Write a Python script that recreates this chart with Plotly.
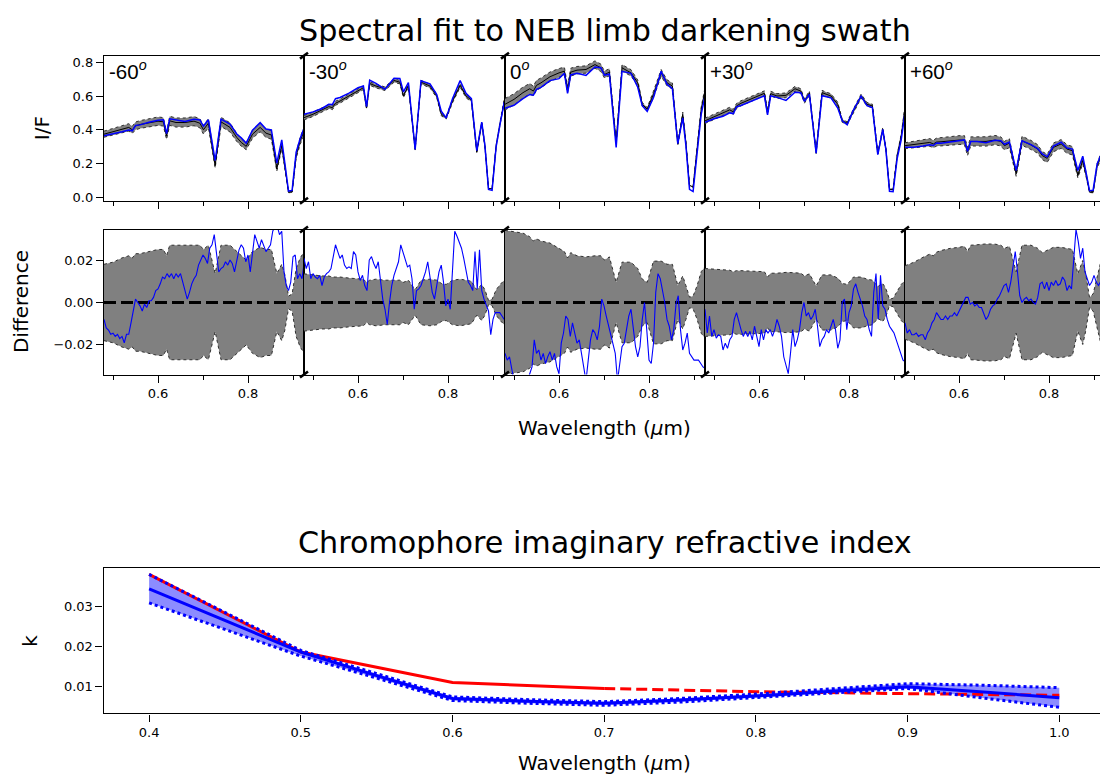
import numpy as np
import plotly.graph_objects as go

W, H = 1100, 778

# ---------------- data: spectra (coarse wavelength samples, micron) ----------------
WL = [0.48, 0.50, 0.52, 0.535, 0.543, 0.55, 0.56, 0.58, 0.60, 0.612,
      0.619, 0.626, 0.64, 0.66, 0.68, 0.693, 0.701, 0.712, 0.727, 0.74,
      0.76, 0.775, 0.785, 0.796, 0.81, 0.827, 0.84, 0.852, 0.864, 0.875,
      0.882, 0.89, 0.898, 0.907, 0.916, 0.925]

ANGLE_LABELS = ["-60", "-30", "0", "+30", "+60"]

DATA_M60 = [0.374, 0.388, 0.404, 0.414, 0.400, 0.423, 0.431, 0.443, 0.451, 0.447,
            0.365, 0.453, 0.443, 0.443, 0.451, 0.439, 0.400, 0.439, 0.188, 0.447,
            0.414, 0.355, 0.325, 0.302, 0.374, 0.414, 0.380, 0.369, 0.168, 0.306,
            0.188, 0.031, 0.031, 0.247, 0.335, 0.394]
MODEL_M60 = [0.364, 0.374, 0.388, 0.399, 0.394, 0.425, 0.429, 0.444, 0.457, 0.459,
             0.378, 0.465, 0.457, 0.449, 0.462, 0.458, 0.422, 0.459, 0.218, 0.463,
             0.434, 0.375, 0.352, 0.321, 0.398, 0.442, 0.404, 0.399, 0.203, 0.340,
             0.200, 0.037, 0.041, 0.267, 0.348, 0.413]
ERR_M60 = [0.018, 0.019, 0.021, 0.022, 0.021, 0.023, 0.023, 0.024, 0.025, 0.025,
           0.022, 0.027, 0.027, 0.027, 0.027, 0.027, 0.025, 0.027, 0.0137, 0.027,
           0.027, 0.024, 0.022, 0.020, 0.024, 0.026, 0.025, 0.025, 0.0137, 0.018,
           0.013, 0.003, 0.004, 0.016, 0.021, 0.024]

DATA_M30 = [0.472, 0.492, 0.518, 0.537, 0.531, 0.557, 0.570, 0.600, 0.635, 0.649,
            0.531, 0.674, 0.659, 0.643, 0.692, 0.682, 0.600, 0.663, 0.286, 0.682,
            0.659, 0.600, 0.492, 0.472, 0.570, 0.663, 0.600, 0.576, 0.267, 0.439,
            0.306, 0.051, 0.051, 0.306, 0.443, 0.571]
MODEL_M30 = [0.492, 0.506, 0.526, 0.551, 0.549, 0.584, 0.591, 0.617, 0.649, 0.659,
             0.537, 0.694, 0.675, 0.640, 0.705, 0.704, 0.624, 0.680, 0.283, 0.690,
             0.672, 0.608, 0.510, 0.470, 0.584, 0.691, 0.616, 0.584, 0.277, 0.445,
             0.308, 0.047, 0.041, 0.301, 0.438, 0.563]
ERR_M30 = [0.0135, 0.013, 0.0125, 0.0125, 0.012, 0.012, 0.012, 0.0115, 0.011, 0.011,
           0.0095, 0.0105, 0.011, 0.0105, 0.0105, 0.0105, 0.0095, 0.0105, 0.006, 0.0105,
           0.011, 0.0105, 0.009, 0.0085, 0.0105, 0.011, 0.0105, 0.010, 0.006, 0.0085,
           0.006, 0.001, 0.0015, 0.006, 0.0085, 0.0105]

DATA_0 = [0.551, 0.580, 0.620, 0.643, 0.629, 0.663, 0.678, 0.714, 0.737, 0.747,
          0.639, 0.741, 0.753, 0.757, 0.786, 0.767, 0.727, 0.741, 0.325, 0.767,
          0.737, 0.678, 0.551, 0.522, 0.610, 0.737, 0.678, 0.659, 0.316, 0.492,
          0.325, 0.071, 0.061, 0.306, 0.521, 0.639]
MODEL_0 = [0.527, 0.545, 0.584, 0.609, 0.605, 0.639, 0.651, 0.691, 0.703, 0.735,
           0.615, 0.725, 0.734, 0.722, 0.772, 0.768, 0.724, 0.729, 0.295, 0.746,
           0.734, 0.652, 0.543, 0.509, 0.591, 0.747, 0.670, 0.644, 0.318, 0.470,
           0.308, 0.047, 0.034, 0.279, 0.492, 0.608]
ERR_0 = [0.034, 0.0335, 0.0327, 0.031, 0.029, 0.030, 0.029, 0.028, 0.0255, 0.024,
         0.021, 0.0235, 0.022, 0.0215, 0.022, 0.022, 0.020, 0.0215, 0.0095, 0.019,
         0.019, 0.016, 0.011, 0.0095, 0.0195, 0.0195, 0.018, 0.018, 0.008, 0.0125,
         0.008, 0.0025, 0.003, 0.008, 0.0145, 0.017]

DATA_P30 = [0.453, 0.478, 0.502, 0.518, 0.506, 0.541, 0.557, 0.580, 0.606, 0.616,
            0.502, 0.614, 0.600, 0.604, 0.643, 0.629, 0.570, 0.616, 0.267, 0.620,
            0.600, 0.551, 0.453, 0.439, 0.512, 0.600, 0.551, 0.541, 0.257, 0.404,
            0.286, 0.047, 0.047, 0.247, 0.365, 0.541]
MODEL_P30 = [0.445, 0.465, 0.480, 0.500, 0.496, 0.536, 0.544, 0.566, 0.585, 0.601,
             0.488, 0.601, 0.592, 0.574, 0.622, 0.620, 0.569, 0.611, 0.262, 0.602,
             0.589, 0.529, 0.453, 0.429, 0.518, 0.599, 0.543, 0.531, 0.253, 0.402,
             0.282, 0.036, 0.033, 0.229, 0.341, 0.513]
ERR_P30 = [0.016, 0.0158, 0.0155, 0.0152, 0.0145, 0.015, 0.015, 0.0148, 0.0145, 0.0145,
           0.012, 0.0138, 0.0138, 0.0142, 0.014, 0.0138, 0.0125, 0.0135, 0.0078, 0.013,
           0.013, 0.0115, 0.009, 0.0085, 0.012, 0.012, 0.011, 0.0105, 0.0075, 0.009,
           0.0065, 0.0015, 0.002, 0.0055, 0.0085, 0.0105]

DATA_P60 = [0.306, 0.312, 0.319, 0.325, 0.316, 0.327, 0.329, 0.335, 0.339, 0.339,
            0.271, 0.331, 0.331, 0.331, 0.339, 0.331, 0.306, 0.321, 0.139, 0.335,
            0.310, 0.286, 0.247, 0.231, 0.296, 0.316, 0.286, 0.276, 0.129, 0.218,
            0.139, 0.031, 0.031, 0.188, 0.247, 0.306]
MODEL_P60 = [0.296, 0.297, 0.304, 0.312, 0.307, 0.322, 0.321, 0.329, 0.335, 0.340,
             0.273, 0.330, 0.330, 0.323, 0.338, 0.335, 0.314, 0.327, 0.159, 0.335,
             0.312, 0.288, 0.257, 0.240, 0.304, 0.326, 0.292, 0.286, 0.159, 0.244,
             0.152, 0.039, 0.042, 0.198, 0.255, 0.314]
ERR_P60 = [0.0173, 0.019, 0.0213, 0.0228, 0.022, 0.0237, 0.0245, 0.0255, 0.026, 0.0265,
           0.024, 0.027, 0.0272, 0.0276, 0.0275, 0.027, 0.0255, 0.0265, 0.0145, 0.027,
           0.027, 0.0255, 0.0235, 0.0245, 0.026, 0.026, 0.0255, 0.025, 0.0135, 0.0198,
           0.013, 0.0024, 0.004, 0.0127, 0.020, 0.023]

# ---------------- data: model - observation differences (fine samples) ----------------
WL_FINE = [round(0.48 + 0.005 * i, 3) for i in range(90)]

DIFF_M60 = [-0.008, -0.012, -0.013, -0.015, -0.0145, -0.016, -0.015, -0.017, -0.016, -0.019,
            -0.015, -0.015, -0.0096, -0.004, 0.0016, 0.0, -0.0016, -0.004, -0.0008, -0.0024,
            0.0008, 0.0008, 0.0024, 0.0056, 0.0064, 0.0088, 0.012, 0.0112, 0.0136, 0.012,
            0.0136, 0.0112, 0.0136, 0.012, 0.0136, 0.0096, 0.0056, 0.0016, 0.0048, 0.0088,
            0.0112, 0.0128, 0.0176, 0.020, 0.0224, 0.0208, 0.0184, 0.0256, 0.0272, 0.032,
            0.0216, 0.0144, 0.016, 0.0168, 0.0192, 0.0176, 0.020, 0.0184, 0.0144, 0.020,
            0.0248, 0.0272, 0.0256, 0.0192, 0.0224, 0.0144, 0.024, 0.032, 0.0288, 0.0256,
            0.0296, 0.0264, 0.024, 0.0256, 0.0272, 0.0336, 0.036, 0.036, 0.032, 0.0336,
            0.0144, 0.008, 0.0056, 0.0096, 0.0216, 0.0224, 0.0112, 0.0136, 0.0112, 0.0192]
DIFF_M30 = [0.0208, 0.016, 0.0192, 0.0112, 0.0136, 0.012, 0.0112, 0.0128, 0.008, 0.012,
            0.0136, 0.0144, 0.016, 0.0208, 0.0272, 0.024, 0.0208, 0.0224, 0.0176, 0.016,
            0.0168, 0.016, 0.024, 0.0224, 0.0144, 0.0104, 0.0128, 0.008, 0.0056, 0.020,
            0.0216, 0.0184, 0.016, 0.0192, 0.0104, 0.0016, -0.0032, -0.0104, 0.0, 0.008,
            0.0128, 0.016, 0.0192, 0.0272, 0.024, 0.020, 0.0168, 0.0176, 0.0112, -0.0032,
            0.0056, 0.0064, 0.008, 0.0112, 0.0144, 0.0192, 0.0128, 0.0048, 0.0016, 0.008,
            0.0144, 0.0176, 0.0096, -0.0016, 0.0016, -0.0032, 0.0144, 0.0336, 0.0312, 0.028,
            0.0256, 0.0208, 0.016, 0.0096, 0.008, 0.0056, 0.024, 0.0064, 0.0248, 0.0056,
            0.0016, -0.0016, -0.004, -0.0152, -0.008, -0.0048, -0.0048, -0.0048, -0.0064, -0.008]
DIFF_0 = [-0.024, -0.0272, -0.0256, -0.032, -0.037, -0.038, -0.037, -0.038, -0.037, -0.038,
          -0.037, -0.0336, -0.0304, -0.0176, -0.024, -0.0224, -0.0272, -0.024, -0.0288, -0.0256,
          -0.0232, -0.0272, -0.024, -0.0304, -0.0336, -0.0192, -0.0144, -0.0064, -0.008, -0.016,
          -0.0096, -0.0144, -0.0192, -0.0176, -0.024, -0.0304, -0.037, -0.0272, -0.0176, -0.0128,
          -0.0144, -0.0176, -0.0112, 0.0016, -0.0016, -0.0064, -0.0112, -0.016, -0.0192, -0.024,
          -0.037, -0.0288, -0.0208, -0.0192, -0.0128, -0.0064, -0.0032, -0.0128, -0.0208, -0.0256,
          -0.0208, -0.008, 0.0, -0.0128, -0.0272, -0.0288, -0.0192, 0.0048, 0.0136, 0.0112,
          0.0064, 0.0, -0.008, -0.0112, -0.0176, -0.0128, -0.0008, 0.0032, -0.0128, -0.0224,
          -0.0192, -0.0144, -0.024, -0.0256, -0.0272, -0.0272, -0.0272, -0.0288, -0.0304, -0.0312]
DIFF_P30 = [-0.0032, -0.0144, -0.0064, -0.016, -0.0128, -0.0168, -0.0152, -0.016, -0.0224, -0.0192,
            -0.0216, -0.0176, -0.016, -0.008, -0.0048, -0.0096, -0.0128, -0.016, -0.0136, -0.016,
            -0.0136, -0.0176, -0.0112, -0.016, -0.0208, -0.0128, -0.0176, -0.0128, -0.0144, -0.0128,
            -0.016, -0.0128, -0.008, -0.0112, -0.016, -0.0256, -0.0304, -0.0336, -0.024, -0.0128,
            -0.0208, -0.0176, -0.0128, -0.0048, 0.0, -0.0064, -0.0048, -0.008, -0.0064, -0.0032,
            -0.0112, -0.0208, -0.0176, -0.016, -0.0128, -0.0144, -0.0112, -0.008, -0.0128, -0.0216,
            -0.0176, 0.0, 0.0016, -0.0128, -0.0048, -0.0016, 0.0064, 0.0088, 0.0048, 0.0016,
            -0.0016, -0.0064, -0.008, -0.0128, -0.016, 0.0048, 0.0136, -0.008, 0.0128, -0.0016,
            -0.0032, -0.008, -0.0112, -0.0128, -0.0144, -0.0176, -0.0208, -0.024, -0.0272, -0.028]
DIFF_P60 = [-0.0096, -0.0144, -0.0128, -0.0152, -0.0152, -0.0144, -0.016, -0.0152, -0.0152, -0.0176,
            -0.0144, -0.0128, -0.0096, -0.008, -0.0048, -0.0064, -0.008, -0.008, -0.0064, -0.008,
            -0.0064, -0.0064, -0.0048, -0.0064, -0.004, -0.0016, 0.0, 0.0024, 0.0024, -0.0008,
            0.0, -0.0016, -0.0008, -0.0024, -0.0024, -0.0048, -0.008, -0.0064, -0.0032, -0.0016,
            -0.0008, 0.0016, 0.0032, 0.0056, 0.008, 0.0088, 0.0048, 0.0096, 0.0176, 0.024,
            0.0144, 0.0032, 0.0, 0.0016, 0.0024, 0.0008, 0.0016, 0.0, -0.0008, 0.0024,
            0.0088, 0.0096, 0.0064, 0.0096, 0.0056, 0.0096, 0.008, 0.0104, 0.008, 0.0088,
            0.012, 0.0104, 0.0056, 0.008, 0.0064, 0.0192, 0.0344, 0.0288, 0.0208, 0.0256,
            0.0144, 0.0112, 0.008, 0.0096, 0.0128, 0.0096, 0.008, 0.010, 0.012, 0.012]

# ---------------- data: chromophore imaginary refractive index ----------------
K_WL = [0.4, 0.5, 0.6, 0.7, 0.8, 0.9, 1.0]
K_RED = [0.0381, 0.0187, 0.0111, 0.0096, 0.0088, 0.0083, 0.0079]
KB_WL = [0.40, 0.45, 0.50, 0.55, 0.60, 0.65, 0.70, 0.75, 0.80, 0.85, 0.90, 0.95, 1.00]
KB_MID = [0.0345, 0.0266, 0.0187, 0.0128, 0.0071, 0.0064, 0.0059, 0.0067, 0.0077, 0.0089, 0.0100, 0.0087, 0.0073]
KB_HI = [0.0381, 0.0285, 0.0191, 0.0133, 0.0075, 0.0068, 0.0063, 0.0071, 0.0082, 0.0095, 0.0108, 0.0104, 0.0098]
KB_LO = [0.0310, 0.0244, 0.0177, 0.0122, 0.0066, 0.0059, 0.0054, 0.0062, 0.0073, 0.0085, 0.0096, 0.0072, 0.0049]

PANELS = [
    (DATA_M60, MODEL_M60, ERR_M60, DIFF_M60),
    (DATA_M30, MODEL_M30, ERR_M30, DIFF_M30),
    (DATA_0, MODEL_0, ERR_0, DIFF_0),
    (DATA_P30, MODEL_P30, ERR_P30, DIFF_P30),
    (DATA_P60, MODEL_P60, ERR_P60, DIFF_P60),
]

# ---------------- layout geometry (pixels) ----------------
PANEL_X = [(104, 304), (304, 505), (505, 705), (705, 905), (905, 1100)]
PX_PER_UM = 450.0
WL_LEFT = 0.48
TOP_ROW = (55, 201)
DIFF_ROW = (230, 376)
BOT_ROW = (570.5, 717)

FONT = "DejaVu Sans"
TICKFONT = dict(family=FONT, size=13, color="black")


def px(x):
    return x / W


def py(y):
    return 1 - y / H


fig = go.Figure()
layout = dict(width=W, height=H, margin=dict(l=0, r=0, t=0, b=0),
              plot_bgcolor="white", paper_bgcolor="white", showlegend=False)


def axname(i, kind):
    return f"{kind}axis" if i == 1 else f"{kind}axis{i}"


def ref(i, kind):
    return kind if i == 1 else f"{kind}{i}"


base_axis = dict(showline=True, linecolor="black", linewidth=1.3, showgrid=False,
                 zeroline=False, ticks="outside", tickcolor="black", tickwidth=1,
                 ticklen=7, tickfont=TICKFONT)

band_edge = dict(color="#303030", width=1, dash="dot")

for p, (data, model, err, diff) in enumerate(PANELS):
    x0, x1 = PANEL_X[p]
    xr = [WL_LEFT, WL_LEFT + (x1 - x0) / PX_PER_UM]
    last = (p == 4)
    it = p + 1       # top panel axis index
    idf = p + 6      # difference panel axis index
    d = np.array(data)
    e = np.array(err)

    # ---- top row: spectrum ----
    xa, ya = ref(it, "x"), ref(it, "y")
    fig.add_trace(go.Scatter(x=WL, y=d + e, mode="lines", line=band_edge, xaxis=xa, yaxis=ya,
                             hoverinfo="skip"))
    fig.add_trace(go.Scatter(x=WL, y=d - e, mode="lines", line=band_edge, fill="tonexty",
                             fillcolor="#808080", xaxis=xa, yaxis=ya, hoverinfo="skip"))
    fig.add_trace(go.Scatter(x=WL, y=data, mode="lines", line=dict(color="black", width=1),
                             xaxis=xa, yaxis=ya))
    fig.add_trace(go.Scatter(x=WL, y=model, mode="lines", line=dict(color="#0000ff", width=1.5),
                             xaxis=xa, yaxis=ya))

    # ---- second row: difference ----
    xb, yb = ref(idf, "x"), ref(idf, "y")
    fig.add_trace(go.Scatter(x=WL, y=e, mode="lines", line=band_edge, xaxis=xb, yaxis=yb,
                             hoverinfo="skip"))
    fig.add_trace(go.Scatter(x=WL, y=-e, mode="lines", line=band_edge, fill="tonexty",
                             fillcolor="#808080", xaxis=xb, yaxis=yb, hoverinfo="skip"))
    fig.add_trace(go.Scatter(x=[xr[0], xr[1]], y=[0, 0], mode="lines",
                             line=dict(color="black", width=3, dash="12px,5px"),
                             xaxis=xb, yaxis=yb))
    fig.add_trace(go.Scatter(x=WL_FINE, y=diff, mode="lines", line=dict(color="#0000ff", width=1.1),
                             xaxis=xb, yaxis=yb))

    minor = dict(tickvals=[0.5, 0.7, 0.9], ticks="outside", ticklen=4, tickcolor="black")

    layout[axname(it, "x")] = dict(base_axis, domain=[px(x0), px(x1)], range=xr, anchor=ya,
                                   mirror=True, tickvals=[0.6, 0.8], showticklabels=False,
                                   minor=minor)
    layout[axname(idf, "x")] = dict(base_axis, domain=[px(x0), px(x1)], range=xr, anchor=yb,
                                    mirror=True, tickvals=[0.6, 0.8], tickformat=".1f",
                                    minor=minor)
    ytop = dict(base_axis, domain=[py(TOP_ROW[1]), py(TOP_ROW[0])], range=[-0.02, 0.839],
                anchor=xa, mirror=not last)
    ydif = dict(base_axis, domain=[py(DIFF_ROW[1]), py(DIFF_ROW[0])], range=[-0.034, 0.0344],
                anchor=xb, mirror=not last)
    if p == 0:
        ytop.update(tickvals=[0.0, 0.2, 0.4, 0.6, 0.8], tickformat=".1f")
        ydif.update(tickvals=[-0.02, 0.0, 0.02], tickformat=".2f")
    else:
        ytop.update(ticks="", showticklabels=False)
        ydif.update(ticks="", showticklabels=False)
    layout[axname(it, "y")] = ytop
    layout[axname(idf, "y")] = ydif

# ---- bottom chart ----
ib = 11
xc, yc = ref(ib, "x"), ref(ib, "y")
fig.add_trace(go.Scatter(x=KB_WL, y=KB_HI, mode="lines", line=dict(width=0, color="#0000ff"),
                         xaxis=xc, yaxis=yc, hoverinfo="skip"))
fig.add_trace(go.Scatter(x=KB_WL, y=KB_LO, mode="lines", line=dict(width=0, color="#0000ff"),
                         fill="tonexty", fillcolor="rgba(0,0,255,0.45)", xaxis=xc, yaxis=yc,
                         hoverinfo="skip"))
fig.add_trace(go.Scatter(x=K_WL[:4], y=K_RED[:4], mode="lines", line=dict(color="#ff0000", width=3),
                         xaxis=xc, yaxis=yc))
fig.add_trace(go.Scatter(x=K_WL[3:], y=K_RED[3:], mode="lines",
                         line=dict(color="#ff0000", width=3, dash="11px,5px"), xaxis=xc, yaxis=yc))
fig.add_trace(go.Scatter(x=KB_WL, y=KB_HI, mode="lines", line=dict(color="#0000ff", width=3, dash="dot"),
                         xaxis=xc, yaxis=yc))
fig.add_trace(go.Scatter(x=KB_WL, y=KB_LO, mode="lines", line=dict(color="#0000ff", width=3, dash="dot"),
                         xaxis=xc, yaxis=yc))
fig.add_trace(go.Scatter(x=KB_WL, y=KB_MID, mode="lines", line=dict(color="#0000ff", width=3),
                         xaxis=xc, yaxis=yc))

bx0, bx1 = 103.6, 1100
b_scale = 1517.0
layout[axname(ib, "x")] = dict(base_axis, domain=[px(bx0), px(bx1)],
                               range=[0.37, 0.37 + (bx1 - bx0) / b_scale], anchor=yc, mirror=True,
                               tickvals=[0.4, 0.5, 0.6, 0.7, 0.8, 0.9, 1.0], tickformat=".1f")
layout[axname(ib, "y")] = dict(base_axis, domain=[py(BOT_ROW[1]), py(BOT_ROW[0])],
                               range=[0.00337, 0.03975], anchor=xc, mirror=False,
                               tickvals=[0.01, 0.02, 0.03], tickformat=".2f")

# ---- broken-axis markers ----
shapes = []
for bxp in [304, 505, 705, 905]:
    for byp in [TOP_ROW[0], TOP_ROW[1], DIFF_ROW[0], DIFF_ROW[1]]:
        shapes.append(dict(type="line", xref="paper", yref="paper",
                           x0=px(bxp - 4), y0=py(byp + 3), x1=px(bxp + 4), y1=py(byp - 3),
                           line=dict(color="black", width=2.5)))
layout["shapes"] = shapes

# ---- text ----
ann = []


def add_text(text, xp, yp, size, angle=0, family=FONT, xanchor="center"):
    ann.append(dict(text=text, x=px(xp), y=py(yp), xref="paper", yref="paper", showarrow=False,
                    xanchor=xanchor, yanchor="middle", textangle=angle,
                    font=dict(family=family, size=size, color="black")))


add_text("Spectral fit to NEB limb darkening swath", 604.5, 30, 30.2)
add_text("I/F", 42, 128, 20)
ann[-1]["textangle"] = -90
add_text("Difference", 21, 303, 20, angle=-90)
add_text("Wavelength (<i>μ</i>m)", 604, 430, 20)
add_text("Chromophore imaginary refractive index", 604.5, 545, 30.2)
add_text("k", 30, 644, 20, angle=-90)
add_text("Wavelength (<i>μ</i>m)", 604, 767, 20)
for p, lab in enumerate(ANGLE_LABELS):
    add_text(lab + "<sup><i>o</i></sup>", PANEL_X[p][0] + 3, 69, 20.5,
             family="Liberation Sans", xanchor="left")
layout["annotations"] = ann

fig.update_layout(**layout)
fig.write_html("out.html")
